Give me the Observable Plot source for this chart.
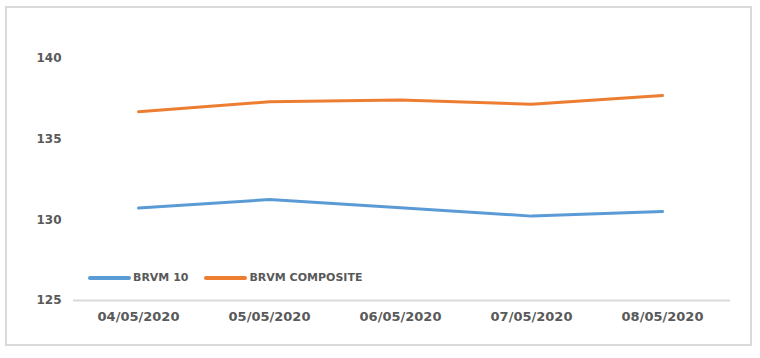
<!DOCTYPE html>
<html>
<head>
<meta charset="utf-8">
<script src="https://cdn.jsdelivr.net/npm/d3@7"></script>
<script src="https://cdn.jsdelivr.net/npm/@observablehq/plot@0.6"></script>
<style>
  html, body { margin: 0; padding: 0; background: #fff; }
  #wrap { position: relative; width: 760px; height: 358px; }
  #border { position: absolute; left: 5px; top: 6px; width: 743px; height: 336px; border: 2px solid #d9d9d9; pointer-events: none; }
  #legend { position: absolute; left: 88px; top: 271px; font: bold 11px "DejaVu Sans", sans-serif; color: #595959; display: flex; align-items: center; }
  #legend .item { display: flex; align-items: center; margin-right: 16px; }
  #legend svg { display: block; margin-right: 2px; }
</style>
</head>
<body>
<div id="wrap">
  <div id="chart"></div>
  <div id="border"></div>
  <div id="legend"></div>
</div>
<script>
const dates = ["04/05/2020", "05/05/2020", "06/05/2020", "07/05/2020", "08/05/2020"];
const brvm10 = [130.73, 131.26, 130.75, 130.23, 130.51];
const brvmComposite = [136.70, 137.32, 137.42, 137.17, 137.70];
const seriesNames = ["BRVM 10", "BRVM COMPOSITE"];
const seriesColors = ["#5b9bd5", "#ed7d31"];
const yTicks = [125, 130, 135, 140];

const data = [];
dates.forEach((d, i) => {
  data.push({date: d, value: brvm10[i], series: seriesNames[0]});
  data.push({date: d, value: brvmComposite[i], series: seriesNames[1]});
});

const chart = Plot.plot({
  width: 760,
  height: 358,
  marginLeft: 71,
  marginRight: 32,
  marginTop: 58,
  marginBottom: 58,
  style: { fontFamily: "DejaVu Sans, sans-serif", color: "#595959", background: "transparent", overflow: "visible" },
  x: { type: "point", domain: dates, padding: 0.5, label: null },
  y: { domain: [125, 140], ticks: yTicks, label: null },
  color: { domain: seriesNames, range: seriesColors },
  marks: [
    Plot.axisX({ tickSize: 0, tickPadding: 11, fontSize: 13, fontWeight: "bold", fill: "#595959" }),
    Plot.axisY({ ticks: yTicks, tickSize: 0, tickPadding: 10, fontSize: 12, fontWeight: "bold", fill: "#595959" }),
    Plot.ruleY([125], { stroke: "#d9d9d9", strokeWidth: 2, dx: 2 }),
    Plot.line(data, { x: "date", y: "value", z: "series", stroke: "series", strokeWidth: 3, strokeLinecap: "round", strokeLinejoin: "round" })
  ]
});
document.getElementById("chart").appendChild(chart);

const legend = document.getElementById("legend");
seriesNames.forEach((name, i) => {
  const item = document.createElement("div");
  item.className = "item";
  item.innerHTML = `<svg width="43" height="8"><line x1="2" y1="4" x2="41" y2="4" stroke="${seriesColors[i]}" stroke-width="4" stroke-linecap="round"/></svg><span>${name}</span>`;
  legend.appendChild(item);
});
</script>
</body>
</html>
